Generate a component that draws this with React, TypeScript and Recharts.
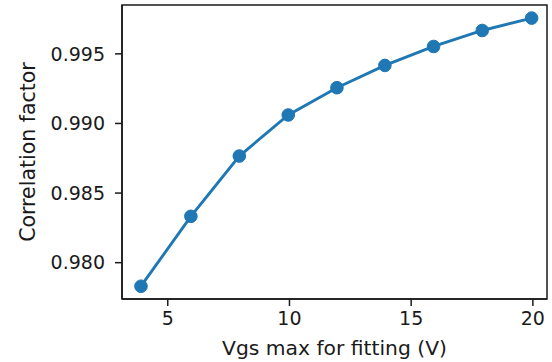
import {
  LineChart,
  Line,
  XAxis,
  YAxis,
  ReferenceArea,
} from "recharts";

// Vgs max used for the fit (V)
const vgsMax = [3.9, 5.95, 7.94, 9.95, 11.95, 13.92, 15.92, 17.92, 19.95];
// correlation factor of the fit
const correlation = [
  0.97831, 0.98333, 0.98766, 0.99061, 0.99257, 0.99417, 0.99553, 0.99668,
  0.99757,
];
const xTicks = [5, 10, 15, 20];
const yTicks = [0.98, 0.985, 0.99, 0.995];

const xDomain: [number, number] = [3.12, 20.58];
const yDomain: [number, number] = [0.97739, 0.99851];

const data = vgsMax.map((v, i) => ({ vgs: v, corr: correlation[i] }));

const blue = "#1f77b4";
const ink = "#1a1a1a";
const font = "DejaVu Sans";

export default function App() {
  return (
    <div style={{ position: "absolute", left: 0, top: 0, background: "#fff" }}>
      <LineChart
        width={552}
        height={362}
        data={data}
        margin={{ top: 5, right: 5, bottom: 0, left: 0 }}
        style={{ fontFamily: font }}
      >
        <XAxis
          dataKey="vgs"
          type="number"
          domain={xDomain}
          ticks={xTicks}
          allowDataOverflow
          height={63}
          tickSize={7}
          tickMargin={6}
          stroke={ink}
          strokeWidth={1.5}
          tick={{ fill: ink, fontSize: 19, fontFamily: font }}
          tickFormatter={(v: number) => String(v)}
          label={{
            value: "Vgs max for fitting (V)",
            position: "insideBottom",
            offset: 7,
            fill: ink,
            fontSize: 20.3,
            fontFamily: font,
          }}
        />
        <YAxis
          type="number"
          domain={yDomain}
          ticks={yTicks}
          allowDataOverflow
          width={122}
          tickSize={7}
          tickMargin={10}
          stroke={ink}
          strokeWidth={1.5}
          tick={{ fill: ink, fontSize: 19, fontFamily: font }}
          tickFormatter={(v: number) => v.toFixed(3)}
          label={{
            value: "Correlation factor",
            angle: -90,
            position: "insideLeft",
            offset: 28,
            fill: ink,
            fontSize: 20.5,
            fontFamily: font,
            style: { textAnchor: "middle" },
          }}
        />
        <ReferenceArea
          x1={xDomain[0]}
          x2={xDomain[1]}
          y1={yDomain[0]}
          y2={yDomain[1]}
          fill="none"
          stroke={ink}
          strokeWidth={1.5}
          ifOverflow="visible"
        />
        <Line
          type="linear"
          dataKey="corr"
          stroke={blue}
          strokeWidth={2.9}
          dot={{ r: 6.3, fill: blue, stroke: blue, strokeWidth: 1 }}
          activeDot={false}
          isAnimationActive={false}
        />
      </LineChart>
    </div>
  );
}
